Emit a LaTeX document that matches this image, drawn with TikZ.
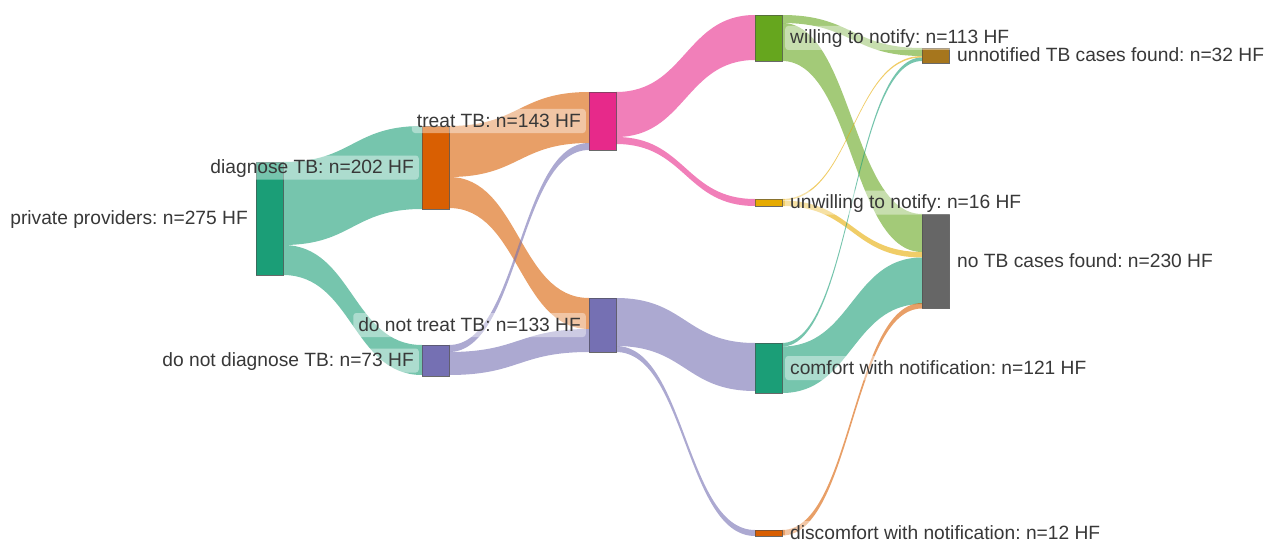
\documentclass[tikz,border=0pt]{standalone}
\usepackage{fontspec}
\setmainfont{Liberation Sans}
\frenchspacing
\usetikzlibrary{calc}
\definecolor{cteal}{HTML}{1B9E77}
\definecolor{corange}{HTML}{D95F02}
\definecolor{cpurple}{HTML}{7570B3}
\definecolor{cpink}{HTML}{E7298A}
\definecolor{cgreen}{HTML}{66A61E}
\definecolor{cyellow}{HTML}{E6AB02}
\definecolor{cbrown}{HTML}{A6761D}
\definecolor{cgray}{HTML}{666666}
\definecolor{ctext}{HTML}{383838}
\newcommand{\sband}[6]{%
  \path (#1.north east) ++(0,#2) coordinate (s1) ++(0,#5) coordinate (s2);
  \path (#3.north west) ++(0,#4) coordinate (t1) ++(0,#5) coordinate (t2);
  \coordinate (m) at ($(s1)!0.5!(t1)$);
  \fill[linkfill=#6] (s1) .. controls (m |- s1) and (m |- t1) .. (t1) -- (t2)
     .. controls (m |- t2) and (m |- s2) .. (s2) -- cycle;
}
\begin{document}
\begin{tikzpicture}[x=1pt,y=-1pt,
  sknode/.style={draw=black!70, draw opacity=0.6, line width=0.5pt, inner sep=0pt, outer sep=0pt,
     minimum width=27pt, anchor=north west, fill=#1},
  linkfill/.style={fill=#1, fill opacity=0.6},
  lbl/.style={fill=white, fill opacity=0.4, text opacity=1, rounded corners=3pt,
     inner xsep=5pt, inner ysep=3pt, text height=15pt, text depth=3pt, text=ctext,
     font=\fontsize{19.2}{23}\selectfont}]
\useasboundingbox (0,0) rectangle (1270,543);
% nodes (geometry only, drawn again on top of the links)
\path
  (256,162) node[sknode=cteal, minimum height=113pt] (P) {}
  (422,126) node[sknode=corange, minimum height=83pt] (D) {}
  (422,345) node[sknode=cpurple, minimum height=31pt] (ND) {}
  (589,92) node[sknode=cpink, minimum height=58pt] (T) {}
  (589,298) node[sknode=cpurple, minimum height=54pt] (NT) {}
  (755,15) node[sknode=cgreen, minimum height=46pt] (W) {}
  (755,199) node[sknode=cyellow, minimum height=7pt] (U) {}
  (755,343) node[sknode=cteal, minimum height=50pt] (C) {}
  (755,530) node[sknode=corange, minimum height=6pt] (DC) {}
  (922,48) node[sknode=cbrown, minimum height=15pt] (UTB) {}
  (922,214) node[sknode=cgray, minimum height=94pt] (NTB) {};
% links
\sband{P}{0}{D}{0}{83}{cteal}
\sband{P}{83}{ND}{0}{30}{cteal}
\sband{D}{0}{T}{0}{51}{corange}
\sband{D}{51}{NT}{0}{31}{corange}
\sband{ND}{0}{T}{51}{7}{cpurple}
\sband{ND}{7}{NT}{31}{23}{cpurple}
\sband{T}{0}{W}{0}{45}{cpink}
\sband{T}{45}{U}{0}{7}{cpink}
\sband{NT}{0}{C}{0}{48}{cpurple}
\sband{NT}{48}{DC}{0}{6}{cpurple}
\sband{W}{0}{UTB}{0}{8}{cgreen}
\sband{W}{8}{NTB}{0}{38}{cgreen}
\sband{U}{0}{UTB}{8}{1.5}{cyellow}
\sband{U}{1.5}{NTB}{38}{5.5}{cyellow}
\sband{C}{0}{UTB}{9.5}{3.5}{cteal}
\sband{C}{3.5}{NTB}{43.5}{46.5}{cteal}
\sband{DC}{0}{NTB}{89}{5.5}{corange}
% nodes on top
\foreach \n/\c in {P/cteal,D/corange,ND/cpurple,T/cpink,NT/cpurple,W/cgreen,U/cyellow,C/cteal,DC/corange,UTB/cbrown,NTB/cgray}{
  \draw[fill=\c, draw=black!70, draw opacity=0.6, line width=0.5pt] (\n.north west) rectangle (\n.south east);
}
% labels
\node[lbl, anchor=east] (Pl) at ([xshift=-3pt]P.west) {private providers: n=275 HF};
\node[lbl, anchor=east] (Dl) at ([xshift=-3pt]D.west) {diagnose TB: n=202 HF};
\node[lbl, anchor=east] (NDl) at ([xshift=-3pt]ND.west) {do not diagnose TB: n=73 HF};
\node[lbl, anchor=east] (Tl) at ([xshift=-3pt]T.west) {treat TB: n=143 HF};
\node[lbl, anchor=east] (NTl) at ([xshift=-3pt]NT.west) {do not treat TB: n=133 HF};
\node[lbl, anchor=west] (Wl) at ([xshift=3pt]W.east) {willing to notify: n=113 HF};
\node[lbl, anchor=west] (Ul) at ([xshift=3pt]U.east) {unwilling to notify: n=16 HF};
\node[lbl, anchor=west] (Cl) at ([xshift=3pt]C.east) {comfort with notification: n=121 HF};
\node[lbl, anchor=west] (DCl) at ([xshift=3pt]DC.east) {discomfort with notification: n=12 HF};
\node[lbl, anchor=west] (UTBl) at ([xshift=3pt]UTB.east) {unnotified TB cases found: n=32 HF};
\node[lbl, anchor=west] (NTBl) at ([xshift=3pt]NTB.east) {no TB cases found: n=230 HF};
\end{tikzpicture}
\end{document}
